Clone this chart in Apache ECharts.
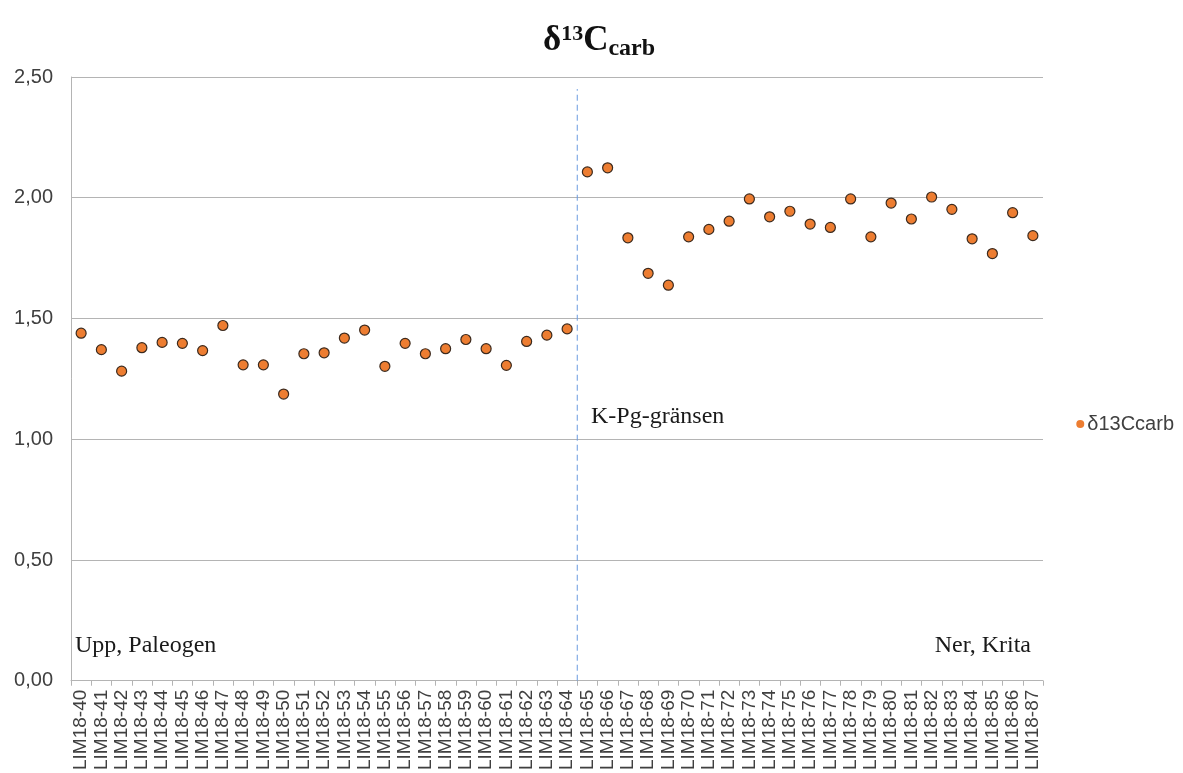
<!DOCTYPE html>
<html><head><meta charset="utf-8">
<script src="https://cdn.jsdelivr.net/npm/echarts@6/dist/echarts.min.js"></script>
<style>html,body{margin:0;padding:0;background:#fff}#c{width:1183px;height:773px}</style>
</head><body><div id="c"></div>
<script>
const categories = [];
for (let i = 40; i <= 87; i++) categories.push('LIM18-' + i);
const values = [
  1.439, 1.371, 1.282, 1.379, 1.401, 1.397, 1.367, 1.471, 1.308, 1.308,
  1.187, 1.354, 1.358, 1.419, 1.452, 1.302, 1.397, 1.354, 1.375, 1.413,
  1.375, 1.306, 1.405, 1.431, 1.457,
  2.107, 2.124, 1.834, 1.687, 1.638, 1.838, 1.869, 1.903, 1.995, 1.921,
  1.944, 1.891, 1.877, 1.995, 1.838, 1.978, 1.912, 2.003, 1.952, 1.830,
  1.769, 1.938, 1.843
];
const yTicks = [0, 0.5, 1.0, 1.5, 2.0, 2.5];
const boundaryIndex = 25; // between LIM18-64 and LIM18-65
const boundaryLine = [[boundaryIndex, 0], [boundaryIndex, 2.45]];

const chart = echarts.init(document.getElementById('c'));
chart.setOption({
  animation: false,
  backgroundColor: '#fff',
  title: {
    text: '{d|δ}{sup|13}{c|C}{sub|carb}',
    left: 538, top: 14,
    textStyle: {
      rich: {
        d: {fontFamily: 'Liberation Serif', fontWeight: 'bold', fontSize: 35, color: '#111', lineHeight: 44},
        sup: {fontFamily: 'Liberation Serif', fontWeight: 'bold', fontSize: 22, color: '#111', padding: [0, 0, 14, 0], lineHeight: 44},
        c: {fontFamily: 'Liberation Serif', fontWeight: 'bold', fontSize: 35, color: '#111', lineHeight: 44},
        sub: {fontFamily: 'Liberation Serif', fontWeight: 'bold', fontSize: 24, color: '#111', padding: [16, 0, 0, 0], lineHeight: 44}
      }
    }
  },
  legend: {
    right: 4, top: 409,
    orient: 'vertical',
    itemWidth: 8, itemHeight: 8, itemGap: 4,
    textStyle: {fontFamily: 'Liberation Sans', fontSize: 20, color: '#404040', padding: [0, 0, 0, -2]},
    data: [{name: 'δ13Ccarb', icon: 'circle', itemStyle: {color: '#ED7D31', borderWidth: 0, opacity: 1}}]
  },
  grid: {left: 71, right: 140, top: 77, bottom: 92},
  xAxis: [{
    type: 'category',
    data: categories,
    boundaryGap: true,
    axisLine: {lineStyle: {color: '#b4b4b4', width: 1}},
    axisTick: {show: true, length: 5, lineStyle: {color: '#b4b4b4'}, interval: 0},
    axisLabel: {rotate: 90, interval: 0, fontFamily: 'Liberation Sans', fontSize: 19, color: '#404040', margin: 9},
    splitLine: {show: false}
  }, {
    type: 'value', min: 0, max: categories.length, show: false
  }],
  yAxis: {
    type: 'value', min: 0, max: 2.5, interval: 0.5,
    axisLine: {show: true, lineStyle: {color: '#b4b4b4'}},
    axisTick: {show: false},
    axisLabel: {
      fontFamily: 'Liberation Sans', fontSize: 20, color: '#404040', margin: 18,
      formatter: v => yTicks.includes(v) ? v.toFixed(2).replace('.', ',') : ''
    },
    splitLine: {lineStyle: {color: '#b4b4b4', width: 1}}
  },
  series: [{
    name: 'δ13Ccarb',
    type: 'scatter',
    data: values,
    symbol: 'circle',
    symbolSize: 10,
    itemStyle: {color: '#ED7D31', borderColor: '#3b2a1e', borderWidth: 1.2, opacity: 1},
    z: 5
  }, {
    name: 'boundary',
    type: 'line',
    xAxisIndex: 1,
    data: boundaryLine,
    symbol: 'none',
    lineStyle: {color: '#6a9be0', width: 1, type: [6, 4]},
    silent: true,
    z: 3
  }],
  graphic: [
    {type: 'text', left: 591, top: 405, style: {text: 'K-Pg-gränsen', font: '24px "Liberation Serif"', fill: '#1a1a1a'}},
    {type: 'text', left: 75, top: 634, style: {text: 'Upp, Paleogen', font: '24px "Liberation Serif"', fill: '#1a1a1a'}},
    {type: 'text', right: 152, top: 634, style: {text: 'Ner, Krita', font: '24px "Liberation Serif"', fill: '#1a1a1a'}}
  ]
});
</script>
</body></html>
